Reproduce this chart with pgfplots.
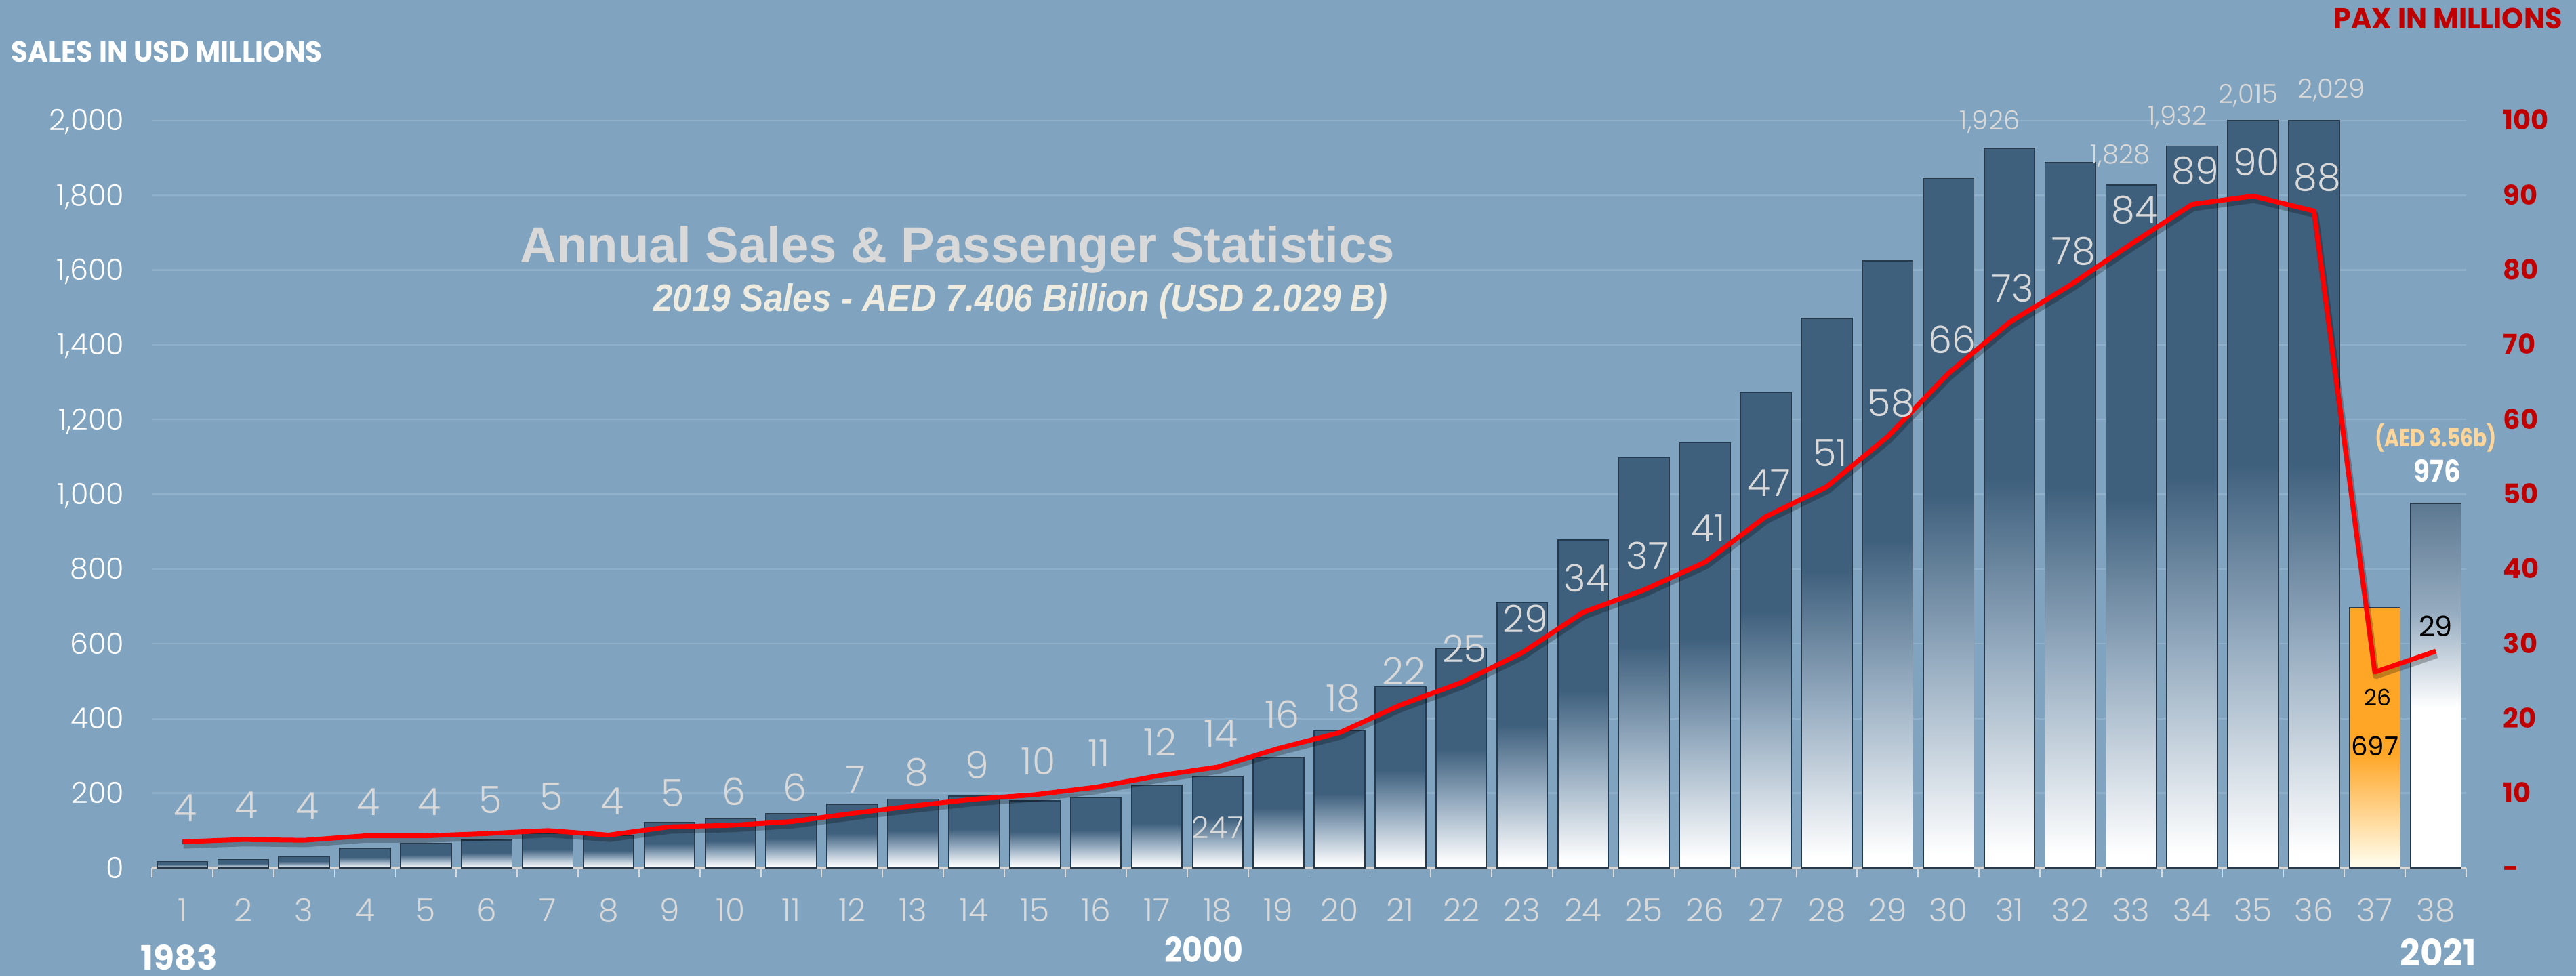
\documentclass[border=0pt]{standalone}
\usepackage{fontspec}
\setmainfont{Poppins}
\newfontfamily\lightf{Poppins Light}
\newfontfamily\arialf{Liberation Sans}
\usepackage{graphicx}
\usepackage{pgfplots}
\usepackage{pgfplotstable}
\pgfplotsset{compat=1.18}

\definecolor{bg}{RGB}{128,163,191}
\definecolor{gridc}{RGB}{143,176,202}
\definecolor{bardark}{RGB}{63,96,125}
\definecolor{barmid}{RGB}{150,172,192}
\definecolor{barline}{RGB}{38,58,78}
\definecolor{paxred}{RGB}{255,0,0}
\definecolor{axred}{RGB}{192,0,0}
\definecolor{lbl}{RGB}{217,217,217}
\definecolor{subc}{RGB}{238,236,225}
\definecolor{aedc}{RGB}{255,214,153}
\definecolor{orng}{RGB}{255,166,38}
\definecolor{orngpale}{RGB}{255,251,232}

\pgfdeclareverticalshading{barshade}{100bp}{color(0bp)=(white); color(26bp)=(white); color(40bp)=(barmid); color(52bp)=(bardark); color(100bp)=(bardark)}
\pgfdeclareverticalshading{orngshade}{100bp}{color(0bp)=(orngpale); color(26bp)=(orngpale); color(47bp)=(orng); color(100bp)=(orng)}
\pgfdeclareverticalshading{lastshade}{100bp}{color(0bp)=(white); color(47bp)=(white); color(60bp)=(barmid); color(75bp)=(bardark!85!white); color(100bp)=(bardark)}

\pgfplotstableread{
x sales
1 17
2 22
3 30
4 52
5 65
6 75
7 92
8 86
9 121
10 133
11 145
12 171
13 184
14 192
15 179
16 188
17 221
18 245
19 296
20 367
21 485
22 588
23 710
24 878
25 1098
26 1138
27 1272
28 1471
29 1624
30 1846
31 1926
32 1887
33 1828
34 1932
35 2015
36 2029
}\salesdata

\pgfplotstableread{
x pax lab
1 3.5 4
2 3.8 4
3 3.7 4
4 4.3 4
5 4.3 4
6 4.6 5
7 5.0 5
8 4.4 4
9 5.5 5
10 5.7 6
11 6.2 6
12 7.3 7
13 8.3 8
14 9.2 9
15 9.8 10
16 10.8 11
17 12.3 12
18 13.5 14
19 16.0 16
20 18.1 18
21 21.8 22
22 24.8 25
23 28.8 29
24 34.2 34
25 37.2 37
26 40.9 41
27 47.0 47
28 51.0 51
29 57.7 58
30 66.2 66
31 73.0 73
32 78.0 78
33 83.5 84
34 88.8 89
35 89.9 90
36 87.9 88
37 26.2 26
38 29.0 29
}\paxdata

\begin{document}
\begin{tikzpicture}[x=1mm,y=1mm]
\fill[bg] (-22.4,-16.0) rectangle (357.7,128.1);

\begin{axis}[
  at={(0,0)}, anchor=south west,
  scale only axis, width=341.5mm, height=110.3mm,
  xmin=0.5, xmax=38.5, ymin=0, ymax=2000,
  clip=false,
  axis x line*=bottom, axis y line*=left,
  x axis line style={draw=lbl, line width=0.9pt, -},
  y axis line style={draw=none, -},
  xtick={1,...,38}, major tick length=0pt,
  minor xtick={0.5,1.5,...,38.5}, minor tick length=1.4mm, xtick align=outside,
  tick style={draw=lbl, line width=0.5pt},
  ytick={0,200,...,2000},
  ymajorgrids, major grid style={draw=gridc, line width=0.7pt},
  /pgf/number format/assume math mode=true,
  /pgf/number format/1000 sep={,},
  yticklabel style={font=\lightf\fontsize{12.2}{14}\selectfont, text=white, anchor=base east, inner sep=0pt, xshift=-4mm, yshift=-1.5mm},
  xticklabel style={font=\lightf\fontsize{13.4}{15}\selectfont, text=lbl, anchor=base, inner sep=0pt, yshift=-7.9mm},
]
\pgfplotsinvokeforeach{1,...,36}{
\addplot[ybar, bar width=0.83, bar shift=0pt, draw=barline, line width=0.5pt, shade, shading=barshade,
  restrict x to domain=#1:#1, restrict y to domain*=0:2000] table[x=x,y=sales]{\salesdata};
}
\addplot[ybar, bar width=0.83, bar shift=0pt, draw=barline, line width=0.5pt, shade, shading=orngshade] coordinates {(37,697)};
\addplot[ybar, bar width=0.83, bar shift=0pt, draw=barline, line width=0.5pt, shade, shading=lastshade] coordinates {(38,976)};

\addplot[draw=none, nodes near coords, point meta=explicit symbolic,
  every node near coord/.style={anchor=center, inner sep=0pt, text=lbl, font=\lightf\fontsize{11}{13}\selectfont}]
  coordinates {(30.68,1996)[1,926] (32.82,1906)[1,828] (33.76,2009)[1,932] (34.92,2067)[2,015] (36.29,2082)[2,029]};
\addplot[draw=none, nodes near coords, point meta=explicit symbolic,
  every node near coord/.style={anchor=center, inner sep=0pt, text=lbl, font=\lightf\fontsize{12.6}{14}\selectfont}]
  coordinates {(18,109)[247]};
\addplot[draw=none, nodes near coords, point meta=explicit symbolic,
  every node near coord/.style={anchor=center, inner sep=0pt, text=black, font=\fontsize{11}{13}\selectfont}]
  coordinates {(37,325)[697]};
\addplot[draw=none, nodes near coords={\scalebox{0.88}[1]{\pgfplotspointmeta}}, point meta=explicit symbolic,
  every node near coord/.style={anchor=center, inner sep=0pt, text=white, font=\bfseries\fontsize{12.6}{14}\selectfont}]
  coordinates {(38.03,1063)[976]};
\addplot[draw=none, nodes near coords={\scalebox{0.8}[1]{\pgfplotspointmeta}}, point meta=explicit symbolic,
  every node near coord/.style={anchor=center, inner sep=0pt, text=aedc, font=\bfseries\fontsize{10.6}{12}\selectfont}]
  coordinates {(38,1151)[(AED 3.56b)]};
\end{axis}

\begin{axis}[
  at={(0,0)}, anchor=south west,
  scale only axis, width=341.5mm, height=110.3mm,
  xmin=0.5, xmax=38.5, ymin=0, ymax=100,
  clip=false,
  hide x axis, axis y line*=right, y axis line style={draw=none, -},
  ytick={0,10,...,100}, yticklabels={-,10,20,30,40,50,60,70,80,90,100},
  major tick length=0pt, ytick style={draw=none},
  yticklabel style={font=\bfseries\fontsize{11.4}{13}\selectfont, text=axred, anchor=base west, inner sep=0pt, xshift=5.4mm, yshift=-1.4mm},
]
\addplot[black, opacity=0.25, line width=2.8pt, line join=round, yshift=-1.5pt, xshift=0.5pt] table[x=x,y=pax]{\paxdata};
\addplot[paxred, line width=2pt, line join=round] table[x=x,y=pax]{\paxdata};
\addplot[draw=none, nodes near coords, point meta=explicit symbolic, restrict x to domain=1:36,
  every node near coord/.style={anchor=center, inner sep=0pt, yshift=5mm, xshift=0.5mm, text=lbl, font=\lightf\fontsize{15.8}{18}\selectfont}]
  table[x=x,y=pax,meta=lab]{\paxdata};
\addplot[draw=none, nodes near coords, point meta=explicit symbolic,
  every node near coord/.style={anchor=center, inner sep=0pt, text=black, font=\fontsize{9.4}{11}\selectfont}]
  coordinates {(37.05,22.8)[26]};
\addplot[draw=none, nodes near coords, point meta=explicit symbolic,
  every node near coord/.style={anchor=center, inner sep=0pt, text=black, font=\fontsize{11.8}{13}\selectfont}]
  coordinates {(38,32.3)[29]};
\end{axis}

\node[anchor=base west, inner sep=0pt, text=white] at (-20.8,118.9) {\resizebox{45.9mm}{3.05mm}{\bfseries SALES IN USD MILLIONS}};
\node[anchor=base west, inner sep=0pt, text=axred] at (321.9,123.8) {\resizebox{33.7mm}{3.05mm}{\bfseries PAX IN MILLIONS}};
\node[anchor=base west, inner sep=0pt, text=lbl] at (54.3,89.3) {\resizebox{129mm}{5.4mm}{\arialf\bfseries Annual Sales \& Passenger Statistics}};
\node[anchor=base east, inner sep=0pt, text=subc] at (182.4,82.1) {\resizebox{108.3mm}{4.1mm}{\arialf\bfseries\itshape 2019 Sales - AED 7.406 Billion (USD 2.029 B)}};
\node[anchor=base west, inner sep=0pt, text=white] at (-1.7,-15.0) {\resizebox{11.3mm}{3.7mm}{\bfseries 1983}};
\node[anchor=base west, inner sep=0pt, text=white] at (149.4,-13.9) {\resizebox{11.6mm}{3.8mm}{\bfseries 2000}};
\node[anchor=base west, inner sep=0pt, text=white] at (331.7,-14.4) {\resizebox{11.2mm}{4.0mm}{\bfseries 2021}};

\pgfresetboundingbox
\useasboundingbox (-22.4,-16.0) rectangle (357.7,128.1);
\end{tikzpicture}
\end{document}
